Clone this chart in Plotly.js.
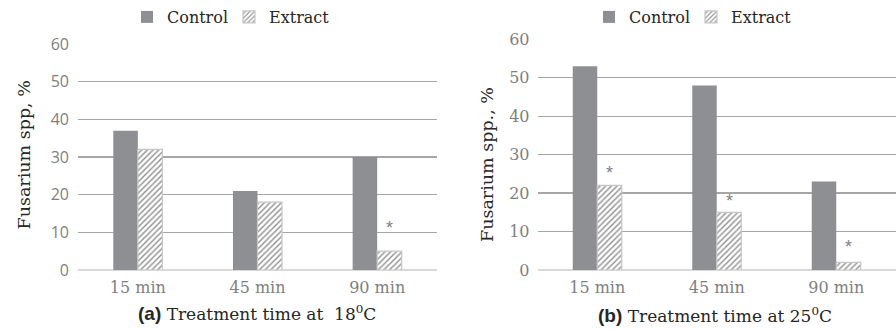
<!DOCTYPE html>
<html>
<head>
<meta charset="utf-8">
<script src="https://cdn.plot.ly/plotly-3.0.1.min.js"></script>
<style>html,body{margin:0;padding:0;background:#fff;}#chart{width:896px;height:331px;}</style>
</head>
<body>
<div id="chart"></div>
<script>
// ---- data ----
const categories = ["15 min", "45 min", "90 min"];
const controlA = [37, 21, 30];
const extractA = [32, 18, 5];
const controlB = [53, 48, 23];
const extractB = [22, 15, 2];
const yTicks = [0, 10, 20, 30, 40, 50, 60];
const starsA = [2];          // category indices with significance mark (panel a)
const starsB = [0, 1, 2];    // panel b
const starShiftA = [23];
const starShiftB = [12, 11, 15];

const SERIF = "DejaVu Serif, serif";
const SANS = "Liberation Sans, Arial, sans-serif";
const ctrlColor = "#8e8f93";
const bargap = 0.59;

function ctrl(y, xa, ya, leg) {
  return {type: "bar", name: "Control", x: categories, y: y, xaxis: xa, yaxis: ya, legend: leg, legendwidth: 57,
    marker: {color: ctrlColor, line: {width: 0}}, hoverinfo: "none"};
}
function extr(y, xa, ya, leg) {
  return {type: "bar", name: "Extract", x: categories, y: y, xaxis: xa, yaxis: ya, legend: leg, legendwidth: 80,
    marker: {color: "#ffffff", line: {color: "#c6c6c6", width: 1.2},
      pattern: {shape: "/", fgcolor: "#8f8f8f", bgcolor: "#ffffff", size: 4, solidity: 0.35}},
    hoverinfo: "none"};
}

const data = [
  ctrl(controlA, "x", "y", "legend"),
  extr(extractA, "x", "y", "legend"),
  ctrl(controlB, "x2", "y2", "legend2"),
  extr(extractB, "x2", "y2", "legend2")
];

const off = (1 - bargap) / 4; // center offset of the 2nd bar in a group
const annotations = [];
starsA.forEach((c, i) => annotations.push({xref: "x", yref: "y", x: c + off, y: extractA[c], yshift: starShiftA[i],
  xanchor: "center", yanchor: "middle",
  text: "*", showarrow: false, font: {family: SANS, size: 18, color: "#7f7f7f"}}));
starsB.forEach((c, i) => annotations.push({xref: "x2", yref: "y2", x: c + off, y: extractB[c], yshift: starShiftB[i],
  xanchor: "center", yanchor: "middle",
  text: "*", showarrow: false, font: {family: SANS, size: 18, color: "#7f7f7f"}}));

const cap = {xref: "paper", yref: "paper", xanchor: "center", yanchor: "middle", showarrow: false};
annotations.push(Object.assign({}, cap, {x: 23.5/896, y: 1 - 155/331, text: "Fusarium spp, %", textangle: -90,
  font: {family: SERIF, size: 17.5, color: "#262626"}}));
annotations.push(Object.assign({}, cap, {x: 487/896, y: 1 - 165/331, text: "Fusarium spp., %", textangle: -90,
  font: {family: SERIF, size: 17.5, color: "#262626"}}));
annotations.push(Object.assign({}, cap, {x: 257/896, y: 1 - 313/331,
  text: "<span style=\"font-family:Liberation Sans, Arial, sans-serif;font-size:19px\"><b>(a)</b></span> Treatment time at \u00a018<sup>0</sup>C",
  font: {family: SERIF, size: 17, color: "#262626"}}));
annotations.push(Object.assign({}, cap, {x: 715/896, y: 1 - 315/331,
  text: "<span style=\"font-family:Liberation Sans, Arial, sans-serif;font-size:19px\"><b>(b)</b></span> Treatment time at 25<sup>0</sup>C",
  font: {family: SERIF, size: 17, color: "#262626"}}));

const xCommon = {type: "category", showgrid: false, zeroline: false, showline: false, ticks: "",
  tickfont: {family: SERIF, size: 16, color: "#7f7f7f"}, fixedrange: true};
const yCommon = {range: [0, 60], tickvals: yTicks, showgrid: true, gridcolor: "#a6a6a6", gridwidth: 1.3,
  zeroline: true, zerolinecolor: "#d9d9d9", zerolinewidth: 1.5, showline: false, ticks: "", fixedrange: true};

const legendCommon = {orientation: "h", yanchor: "middle", xanchor: "left", bgcolor: "rgba(0,0,0,0)",
  font: {family: SERIF, size: 16, color: "#262626"}, itemwidth: 30};

const layout = {
  width: 896, height: 331,
  margin: {l: 0, r: 0, t: 0, b: 0},
  paper_bgcolor: "#ffffff", plot_bgcolor: "#ffffff",
  barmode: "group", bargap: bargap, bargroupgap: 0,
  showlegend: true,
  xaxis: Object.assign({}, xCommon, {domain: [78/896, 437/896], anchor: "y", ticklabelstandoff: 6}),
  xaxis2: Object.assign({}, xCommon, {domain: [537.5/896, 1], anchor: "y2", ticklabelstandoff: 6}),
  yaxis: Object.assign({}, yCommon, {domain: [1 - 270/331, 1 - 44/331], anchor: "x",
    tickfont: {family: "Open Sans", size: 16, color: "#7f7f7f"}, ticklabelstandoff: 8}),
  yaxis2: Object.assign({}, yCommon, {domain: [1 - 270/331, 1 - 39.3/331], anchor: "x2",
    tickfont: {family: SERIF, size: 16, color: "#7f7f7f"}, ticklabelstandoff: 7}),
  legend: Object.assign({}, legendCommon, {x: 127/896, y: 1 - 17/331}),
  legend2: Object.assign({}, legendCommon, {x: 589/896, y: 1 - 17/331}),
  annotations: annotations
};

Plotly.newPlot("chart", data, layout, {staticPlot: true, displayModeBar: false});
</script>
</body>
</html>
